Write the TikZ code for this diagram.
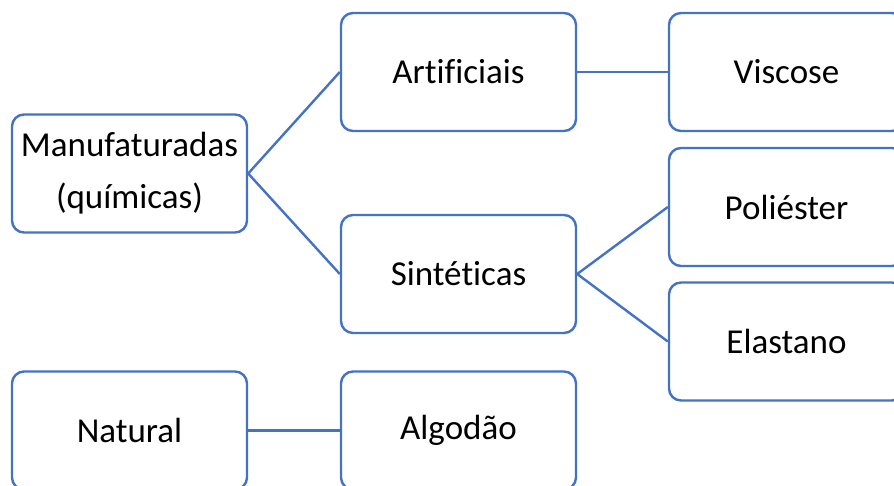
\documentclass[tikz,border=0pt]{standalone}
\usepackage{fontspec}
\setmainfont{Carlito}[Ligatures={NoCommon}]
\definecolor{boxblue}{RGB}{68,114,196}
\tikzset{
  box/.style={draw=boxblue, line width=2.4pt, rounded corners=12pt, fill=white,
    minimum width=235pt, minimum height=118pt, inner sep=0pt, align=center,
    font=\fontsize{35}{52}\selectfont},
  link/.style={draw=boxblue, line width=2.4pt}
}
\begin{document}
\begin{tikzpicture}[x=1pt,y=-1pt]
\useasboundingbox (0,0) rectangle (894,485);
\clip (0,0) rectangle (894,485);
\node[box] (man) at (129.5,173.5) {Manufaturadas\\(químicas)};
\node[box] (art) at (458.5,72) {Artificiais};
\node[box] (sin) at (458.5,274) {Sintéticas};
\node[box] (vis) at (786.5,72) {Viscose};
\node[box] (pol) at (786.5,207) {Poliéster};
\node[box] (ela) at (786.5,341.5) {Elastano};
\node[box] (nat) at (129.5,430.5) {Natural};
\node[box] (alg) at (458.5,430.5) {Algodão};
\draw[link] (man.east) -- (art.west);
\draw[link] (man.east) -- (sin.west);
\draw[link] (art.east) -- (vis.west);
\draw[link] (sin.east) -- (pol.west);
\draw[link] (sin.east) -- (ela.west);
\draw[link] (nat.east) -- (alg.west);
\end{tikzpicture}
\end{document}
